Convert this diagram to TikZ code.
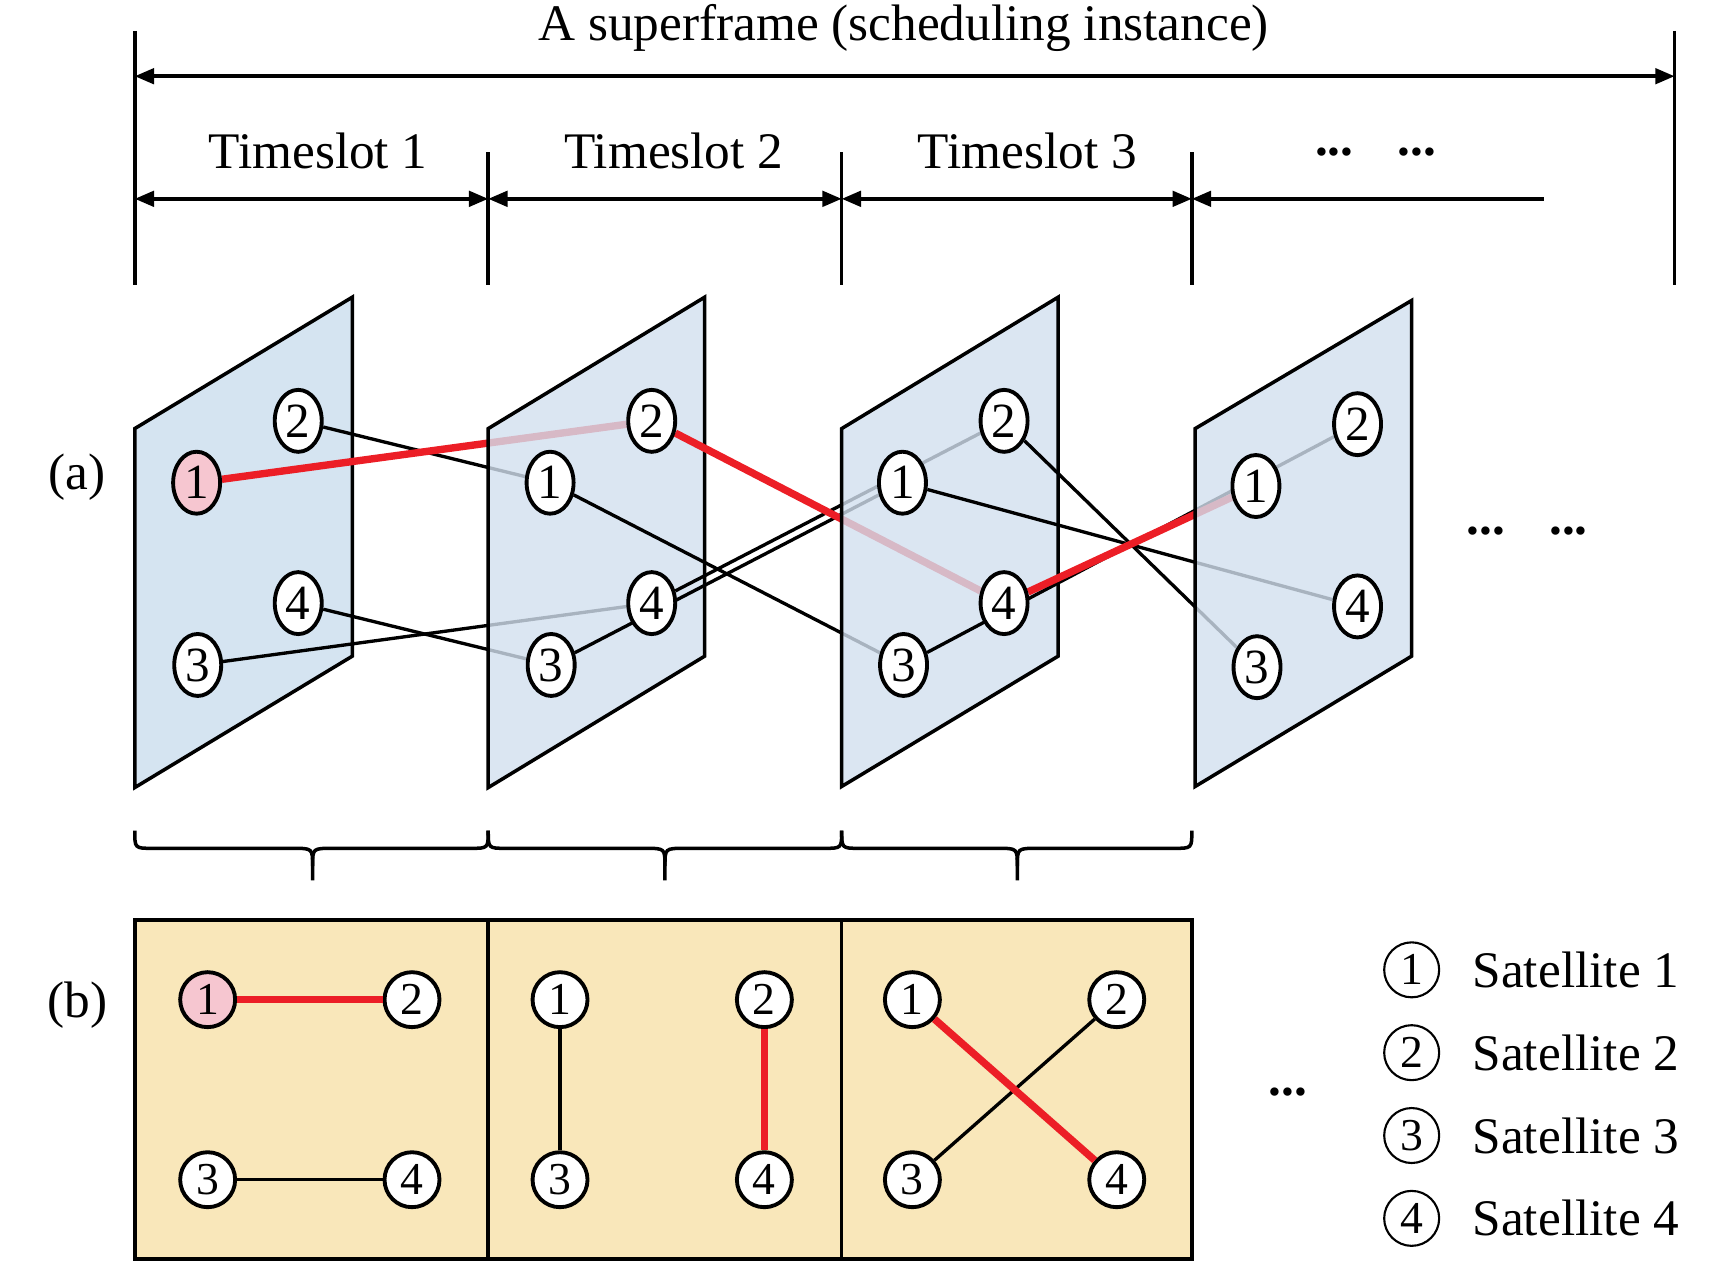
\documentclass[tikz,border=0pt]{standalone}
\usepackage{fontspec}
\setmainfont{Liberation Serif}
\usepackage{tikz}
\usetikzlibrary{arrows.meta,shapes.geometric}
\usepackage{xcolor}

\definecolor{linkred}{RGB}{236,30,38}
\definecolor{satpink}{RGB}{246,198,208}
\definecolor{panelblue}{RGB}{210,224,239}
\definecolor{firstblue}{RGB}{213,228,241}
\definecolor{boxyellow}{RGB}{249,231,186}

\pgfdeclarelayer{p1}\pgfdeclarelayer{e1}
\pgfdeclarelayer{p2}\pgfdeclarelayer{e2}
\pgfdeclarelayer{p3}\pgfdeclarelayer{e3}
\pgfdeclarelayer{p4}
\pgfsetlayers{p1,e1,p2,e2,p3,e3,p4,main}

\begin{document}
\begin{tikzpicture}[x=0.1105mm,y=-0.1105mm,
  font=\fontsize{14.6}{17}\selectfont,
  dimline/.style={line width=1pt},
  dimarrow/.style={line width=1pt,{Triangle[length=5.5pt,width=4.4pt]}-{Triangle[length=5.5pt,width=4.4pt]}},
  panel/.style={draw,line width=1pt,fill=panelblue,fill opacity=0.8},
  sat/.style={ellipse,draw,line width=1.1pt,fill=white,inner sep=0pt,
    minimum width=0.47cm,minimum height=0.62cm,font=\fontsize{14}{14}\selectfont},
  bsat/.style={circle,draw,line width=1.1pt,fill=white,inner sep=0pt,
    minimum size=0.55cm,font=\fontsize{13}{13}\selectfont},
  legsat/.style={circle,draw,line width=0.6pt,inner sep=0pt,
    minimum size=0.55cm,font=\fontsize{13}{13}\selectfont},
  link/.style={line width=0.95pt},
  redlink/.style={line width=2.1pt,linkred},
  brace/.style={line width=1pt},
  dots/.style={anchor=base,font=\fontsize{14.6}{17}\selectfont\bfseries}]

\useasboundingbox (0,0) rectangle (1568,1148);

% superframe and timeslots
\node (frame) at (818,25) {A superframe (scheduling instance)};
\draw[dimline] (122,28) -- (122,258);
\draw[dimline] (1516,28) -- (1516,258);
\draw[dimarrow] (122,69) -- (1516,69);

\draw[dimline] (442,138) -- (442,258);
\draw[dimline] (762,138) -- (762,258);
\draw[dimline] (1079,138) -- (1079,258);

\node (ts1) at (288,137) {Timeslot 1};
\node (ts2) at (610,137) {Timeslot 2};
\node (ts3) at (930,137) {Timeslot 3};
\node[dots] (tsdotsa) at (1208,141) {...};
\node[dots] (tsdotsb) at (1283,141) {...};

\draw[dimarrow] (122,180) -- (442,180);
\draw[dimarrow] (442,180) -- (762,180);
\draw[dimarrow] (762,180) -- (1079,180);
\draw[line width=1pt,{Triangle[length=5.5pt,width=4.4pt]}-] (1079,180) -- (1398,180);

% (a) satellites in each timeslot
\node (lbla) at (70,432) {(a)};

\node[sat,fill=satpink] (a11) at (178,437) {1};
\node[sat] (a12) at (270,381) {2};
\node[sat] (a13) at (179,602) {3};
\node[sat] (a14) at (270,546) {4};

\node[sat] (a21) at (498,437) {1};
\node[sat] (a22) at (590,381) {2};
\node[sat] (a23) at (499,602) {3};
\node[sat] (a24) at (590,546) {4};

\node[sat] (a31) at (817,437) {1};
\node[sat] (a32) at (909,381) {2};
\node[sat] (a33) at (818,602) {3};
\node[sat] (a34) at (909,546) {4};

\node[sat] (a41) at (1137,440) {1};
\node[sat] (a42) at (1229,384) {2};
\node[sat] (a43) at (1138,604) {3};
\node[sat] (a44) at (1229,549) {4};

\node[dots] (adotsa) at (1345,484) {...};
\node[dots] (adotsb) at (1420,484) {...};

\begin{pgfonlayer}{p1}
\draw[panel,fill=firstblue,fill opacity=1] (122,388) -- (319,269) -- (319,594) -- (122,713) -- cycle;
\end{pgfonlayer}
\begin{pgfonlayer}{e1}
\draw[link] (a12) -- (a21);
\draw[link] (a14) -- (a23);
\draw[link] (a13) -- (a24);
\draw[redlink] (a11) -- (a22);
\end{pgfonlayer}
\begin{pgfonlayer}{p2}
\draw[panel] (442,388) -- (638,269) -- (638,594) -- (442,713) -- cycle;
\end{pgfonlayer}
\begin{pgfonlayer}{e2}
\draw[link] (a21) -- (a33);
\draw[link] (a24) -- (a32);
\draw[link] (a23) -- (a31);
\draw[redlink] (a22) -- (a34);
\end{pgfonlayer}
\begin{pgfonlayer}{p3}
\draw[panel] (762,388) -- (958,269) -- (958,594) -- (762,712) -- cycle;
\end{pgfonlayer}
\begin{pgfonlayer}{e3}
\draw[link] (a33) -- (a42);
\draw[link] (a31) -- (a44);
\draw[link] (a32) -- (a43);
\draw[redlink] (a34) -- (a41);
\end{pgfonlayer}
\begin{pgfonlayer}{p4}
\draw[panel] (1082,388) -- (1278,272) -- (1278,594) -- (1082,712) -- cycle;
\end{pgfonlayer}

% braces
\draw[brace] (122,752) .. controls (122,768) .. (138,768) -- (265,768)
  .. controls (283,768) .. (283,784) -- (283,797);
\draw[brace] (283,784) .. controls (283,768) .. (301,768) -- (426,768)
  .. controls (442,768) .. (442,752);
\draw[brace] (442,752) .. controls (442,768) .. (458,768) -- (584,768)
  .. controls (602,768) .. (602,784) -- (602,797);
\draw[brace] (602,784) .. controls (602,768) .. (620,768) -- (746,768)
  .. controls (762,768) .. (762,752);
\draw[brace] (762,752) .. controls (762,768) .. (778,768) -- (903,768)
  .. controls (921,768) .. (921,784) -- (921,797);
\draw[brace] (921,784) .. controls (921,768) .. (939,768) -- (1063,768)
  .. controls (1079,768) .. (1079,752);

% (b) one graph per timeslot
\node (lblb) at (70,910) {(b)};
\draw[line width=1pt,fill=boxyellow] (122,833) rectangle (1079,1140);
\draw[line width=1pt] (442,833) -- (442,1140);
\draw[line width=1pt] (762,833) -- (762,1140);

\node[bsat,fill=satpink] (b11) at (188,905) {1};
\node[bsat] (b12) at (373,905) {2};
\node[bsat] (b13) at (188,1068) {3};
\node[bsat] (b14) at (373,1068) {4};

\node[bsat] (b21) at (507,905) {1};
\node[bsat] (b22) at (692,905) {2};
\node[bsat] (b23) at (507,1068) {3};
\node[bsat] (b24) at (692,1068) {4};

\node[bsat] (b31) at (826,905) {1};
\node[bsat] (b32) at (1011,905) {2};
\node[bsat] (b33) at (826,1068) {3};
\node[bsat] (b34) at (1011,1068) {4};

\draw[redlink] (b11) -- (b12);
\draw[link] (b13) -- (b14);
\draw[link] (b21) -- (b23);
\draw[redlink] (b22) -- (b24);
\draw[link] (b33) -- (b32);
\draw[redlink] (b31) -- (b34);

\node[dots] (bdots) at (1166,992) {...};

% legend
\node[legsat] (leg1) at (1278,878) {1};
\node[legsat] (leg2) at (1278,953) {2};
\node[legsat] (leg3) at (1278,1028) {3};
\node[legsat] (leg4) at (1278,1103) {4};
\node[anchor=west] (legtxt1) at (1322,878) {Satellite 1};
\node[anchor=west] (legtxt2) at (1322,953) {Satellite 2};
\node[anchor=west] (legtxt3) at (1322,1028) {Satellite 3};
\node[anchor=west] (legtxt4) at (1322,1103) {Satellite 4};
\end{tikzpicture}
\end{document}
